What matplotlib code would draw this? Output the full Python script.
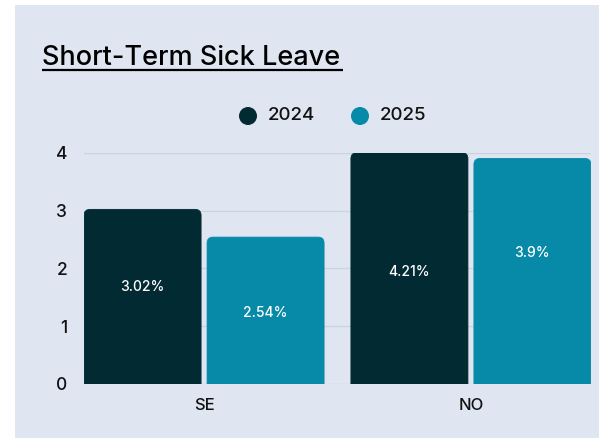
import matplotlib
matplotlib.use("Agg")
import matplotlib.pyplot as plt
from matplotlib.patches import FancyBboxPatch, Circle, Rectangle

# ---- data ----
categories = ["SE", "NO"]
series_names = ["2024", "2025"]
values_2024 = [3.02, 4.21]
values_2025 = [2.54, 3.9]
labels_2024 = ["3.02%", "4.21%"]
labels_2025 = ["2.54%", "3.9%"]
y_ticks = [0, 1, 2, 3, 4]

# ---- style ----
BG = "#dfe6f1"
C24 = "#022a32"
C25 = "#078aa8"
GRID = "#cbd3de"
TXT = "#111111"
FONT = ["Inter", "DejaVu Sans"]
plt.rcParams["font.family"] = FONT
plt.rcParams["font.weight"] = 500

W, H = 599, 438
fig = plt.figure(figsize=(W / 100, H / 100), dpi=100)
fig.patch.set_facecolor("white")

ov = fig.add_axes([0, 0, 1, 1], zorder=0)
ov.set_xlim(0, W)
ov.set_ylim(H, 0)
ov.axis("off")
ov.add_patch(Rectangle((15, 5), W - 15, H - 5, facecolor=BG, edgecolor="none"))

ax_left, ax_right = 84, 591
ax_bottom_px, ax_top_px = 384, 152.7
ax = fig.add_axes([ax_left / W, 1 - ax_bottom_px / H,
                   (ax_right - ax_left) / W, (ax_bottom_px - ax_top_px) / H], zorder=1)
ax.set_facecolor("none")
ymax = y_ticks[-1]
ax.set_ylim(0, ymax)
ax.set_xlim(-0.45, 1.45)
for s in ax.spines.values():
    s.set_visible(False)
for t in y_ticks:
    ax.axhline(t, color=GRID, lw=1.0, zorder=0.5)

x_unit_px = (ax_right - ax_left) / 1.9
y_unit_px = (ax_bottom_px - ax_top_px) / ymax
aspect = x_unit_px / y_unit_px
bar_w = 117 / x_unit_px
offset = 61.5 / x_unit_px
rad = 6 / x_unit_px

label_pos_24 = [1.67, 1.93]
label_pos_25 = [1.22, 2.26]

def draw_bars(vals, labels, lpos, color, off):
    for i, (v, lab, lp) in enumerate(zip(vals, labels, lpos)):
        h = min(v, ymax)
        x0 = i + off - bar_w / 2
        p = FancyBboxPatch((x0, -0.5), bar_w, h + 0.5,
                           boxstyle=f"round,pad=0,rounding_size={rad}",
                           mutation_aspect=aspect,
                           facecolor=color, edgecolor=color, lw=0.6, zorder=2)
        p.set_clip_on(True)
        p.set_clip_box(ax.bbox)
        ax.add_patch(p)
        ax.text(i + off, lp, lab, ha="center", va="center", color="white",
                fontsize=10, fontweight=500, zorder=3)

draw_bars(values_2024, labels_2024, label_pos_24, C24, -offset)
draw_bars(values_2025, labels_2025, label_pos_25, C25, offset)

ax.set_yticks(y_ticks)
ax.set_yticklabels([str(t) for t in y_ticks], fontsize=12.5, color=TXT, fontweight=500)
ax.set_xticks(range(len(categories)))
ax.set_xticklabels(categories, fontsize=12, color=TXT, fontweight=500)
ax.tick_params(axis="both", length=0)
ax.tick_params(axis="y", pad=12)
ax.tick_params(axis="x", pad=10)

ov.text(42, 65, "Short-Term Sick Leave", fontsize=19.5, color="black",
        ha="left", va="baseline", fontweight=500)
ov.plot([42, 343], [70, 70], color="black", lw=1.6, solid_capstyle="butt")

for cx, col, name, tx in [(248, C24, series_names[0], 268), (360, C25, series_names[1], 380)]:
    ov.add_patch(Circle((cx, 116), 9, facecolor=col, edgecolor="none"))
    ov.text(tx, 116, name, fontsize=13.5, color=TXT, ha="left", va="center", fontweight=500)

fig.savefig("out.png", dpi=100, facecolor="white")
